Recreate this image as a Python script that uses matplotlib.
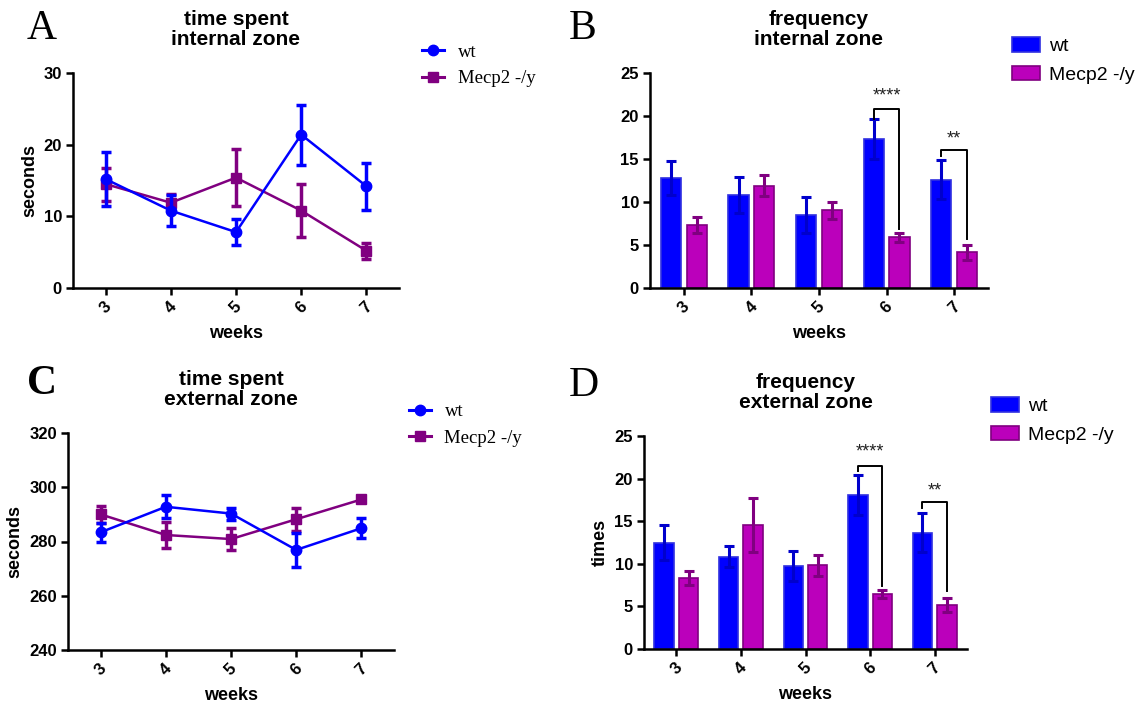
import matplotlib
matplotlib.use("Agg")
import matplotlib.pyplot as plt
from matplotlib.lines import Line2D
from matplotlib.patches import Patch
import numpy as np

weeks = [3, 4, 5, 6, 7]
week_labels = ["3", "4", "5", "6", "7"]

# A: time spent internal zone (seconds)
a_wt = [15.2, 10.8, 7.8, 21.4, 14.2]
a_wt_err = [3.8, 2.2, 1.8, 4.2, 3.3]
a_ko = [14.5, 11.9, 15.4, 10.8, 5.2]
a_ko_err = [2.3, 1.2, 4.0, 3.7, 1.1]

# B: frequency internal zone
b_wt = [12.8, 10.8, 8.5, 17.3, 12.6]
b_wt_err = [2.0, 2.1, 2.1, 2.3, 2.25]
b_ko = [7.3, 11.9, 9.05, 5.9, 4.15]
b_ko_err = [0.9, 1.2, 1.0, 0.55, 0.85]

# C: time spent external zone (seconds)
c_wt = [283.4, 292.8, 290.3, 276.9, 284.9]
c_wt_err = [3.5, 4.2, 2.2, 6.4, 3.7]
c_ko = [290.0, 282.4, 280.9, 288.2, 295.5]
c_ko_err = [3.0, 4.8, 4.2, 4.2, 1.0]

# D: frequency external zone
d_wt = [12.5, 10.84, 9.78, 18.07, 13.65]
d_wt_err = [2.1, 1.2, 1.75, 2.3, 2.3]
d_ko = [8.37, 14.55, 9.82, 6.46, 5.16]
d_ko_err = [0.8, 3.2, 1.2, 0.5, 0.85]

series_names = ["wt", "Mecp2 -/y"]

BLUE = "#0000FF"
BLUE_DARK = "#0000CC"
PURPLE = "#800080"
MAGENTA = "#BB00BB"

plt.rcParams["font.family"] = ["Liberation Sans", "DejaVu Sans"]

W, H = 1138, 706
fig = plt.figure(figsize=(W / 100, H / 100), dpi=100)


def rect_px(left, right, top, bottom):
    return [left / W, 1 - bottom / H, (right - left) / W, (bottom - top) / H]


def style_axes(ax, ylim, yticks, ylabel=None):
    ax.set_xlim(2.5, 7.5)
    ax.set_ylim(*ylim)
    ax.set_yticks(yticks)
    ax.set_xticks(weeks)
    ax.set_xticklabels(week_labels, rotation=45, ha="center", va="top")
    for s in ["top", "right"]:
        ax.spines[s].set_visible(False)
    for s in ["left", "bottom"]:
        ax.spines[s].set_linewidth(1.8)
    ax.tick_params(axis="both", width=1.8, length=5, labelsize=12, pad=3)
    for lab in ax.get_xticklabels() + ax.get_yticklabels():
        lab.set_fontweight("bold")
    ax.set_xlabel("weeks", fontsize=13, fontweight="bold", labelpad=6)
    if ylabel:
        ax.set_ylabel(ylabel, fontsize=13, fontweight="bold", labelpad=4)


def title(ax, text):
    ax.set_title(text, fontsize=15, fontweight="bold", pad=20, linespacing=1.05)


def line_panel(rect, wt, wte, ko, koe, ylim, yticks, ttl, leg_pos):
    ax = fig.add_axes(rect)
    ax.errorbar(weeks, wt, yerr=wte, color=BLUE, marker="o", ms=7.5,
                lw=1.8, elinewidth=2.5, capsize=3.5, capthick=2.5, zorder=3)
    ax.errorbar(weeks, ko, yerr=koe, color=PURPLE, marker="s", ms=7.5,
                lw=1.8, elinewidth=2.5, capsize=3.5, capthick=2.5, zorder=2)
    style_axes(ax, ylim, yticks, "seconds")
    title(ax, ttl)
    h1 = Line2D([], [], color=BLUE, marker="o", ms=7.5, lw=2.2)
    h2 = Line2D([], [], color=PURPLE, marker="s", ms=7.5, lw=2.2)
    fig.legend(handles=[h1, h2], labels=series_names, loc="upper left",
               bbox_to_anchor=leg_pos, frameon=False,
               prop={"family": "Liberation Serif", "size": 13.5},
               handlelength=1.2, handletextpad=0.7, labelspacing=0.5)
    return ax


def bar_panel(rect, wt, wte, ko, koe, ylim, yticks, ttl, leg_pos, ylabel, sig):
    ax = fig.add_axes(rect)
    x = np.array(weeks, dtype=float)
    w = 0.3
    off = 0.19
    ax.bar(x - off, wt, width=w, color=BLUE, edgecolor="#3030E0",
           linewidth=1.2, zorder=2)
    ax.errorbar(x - off, wt, yerr=wte, fmt="none", ecolor=BLUE_DARK,
                elinewidth=2.2, capsize=3.5, capthick=2.2, zorder=3)
    ax.bar(x + off, ko, width=w, color=MAGENTA, edgecolor=PURPLE,
           linewidth=1.2, zorder=2)
    ax.errorbar(x + off, ko, yerr=koe, fmt="none", ecolor=PURPLE,
                elinewidth=2.2, capsize=3.5, capthick=2.2, zorder=3)
    style_axes(ax, ylim, yticks, ylabel)
    title(ax, ttl)
    for (i, yh, yl, yr, txt, ty) in sig:
        xl = x[i] - off
        xr = x[i] + off
        ax.plot([xl, xl, xr, xr], [yl, yh, yh, yr], color="black", lw=1.4,
                zorder=4)
        ax.text((xl + xr) / 2, ty, txt, ha="center", va="center",
                fontsize=13, color="#222222")
    h1 = Patch(facecolor=BLUE, edgecolor="#3030E0", linewidth=1.2)
    h2 = Patch(facecolor=MAGENTA, edgecolor=PURPLE, linewidth=1.2)
    fig.legend(handles=[h1, h2], labels=series_names, loc="upper left",
               bbox_to_anchor=leg_pos, frameon=False,
               prop={"size": 14}, handlelength=1.45, handleheight=0.75,
               handletextpad=0.5, labelspacing=0.55)
    return ax


line_panel(rect_px(73, 399, 73, 288), a_wt, a_wt_err, a_ko, a_ko_err,
           (0, 30), [0, 10, 20, 30], "time spent\ninternal zone",
           (405 / W, 0.962))
bar_panel(rect_px(650, 988, 73, 288), b_wt, b_wt_err, b_ko, b_ko_err,
          (0, 25), [0, 5, 10, 15, 20, 25], "frequency\ninternal zone",
          (994 / W, 0.972), None,
          [(3, 20.85, 19.6, 6.9, "****", 22.3), (4, 16.0, 15.4, 5.65, "**", 17.3)])
line_panel(rect_px(68, 394, 433, 650), c_wt, c_wt_err, c_ko, c_ko_err,
           (240, 320), [240, 260, 280, 300, 320], "time spent\nexternal zone",
           (392 / W, 0.453))
bar_panel(rect_px(644, 967, 436, 649), d_wt, d_wt_err, d_ko, d_ko_err,
          (0, 25), [0, 5, 10, 15, 20, 25], "frequency\nexternal zone",
          (973 / W, 0.462), "times",
          [(3, 21.5, 20.9, 7.36, "****", 23.1), (4, 17.2, 16.5, 6.85, "**", 18.6)])

for letter, xp, yp in [("A", 27, 29), ("B", 569, 29), ("C", 27, 384), ("D", 569, 386)]:
    fig.text(xp / W, 1 - yp / H, letter, fontsize=30,
             family="Liberation Serif",
             fontweight="bold" if letter == "C" else "normal",
             ha="left", va="center")

fig.savefig("out.png", dpi=100)
